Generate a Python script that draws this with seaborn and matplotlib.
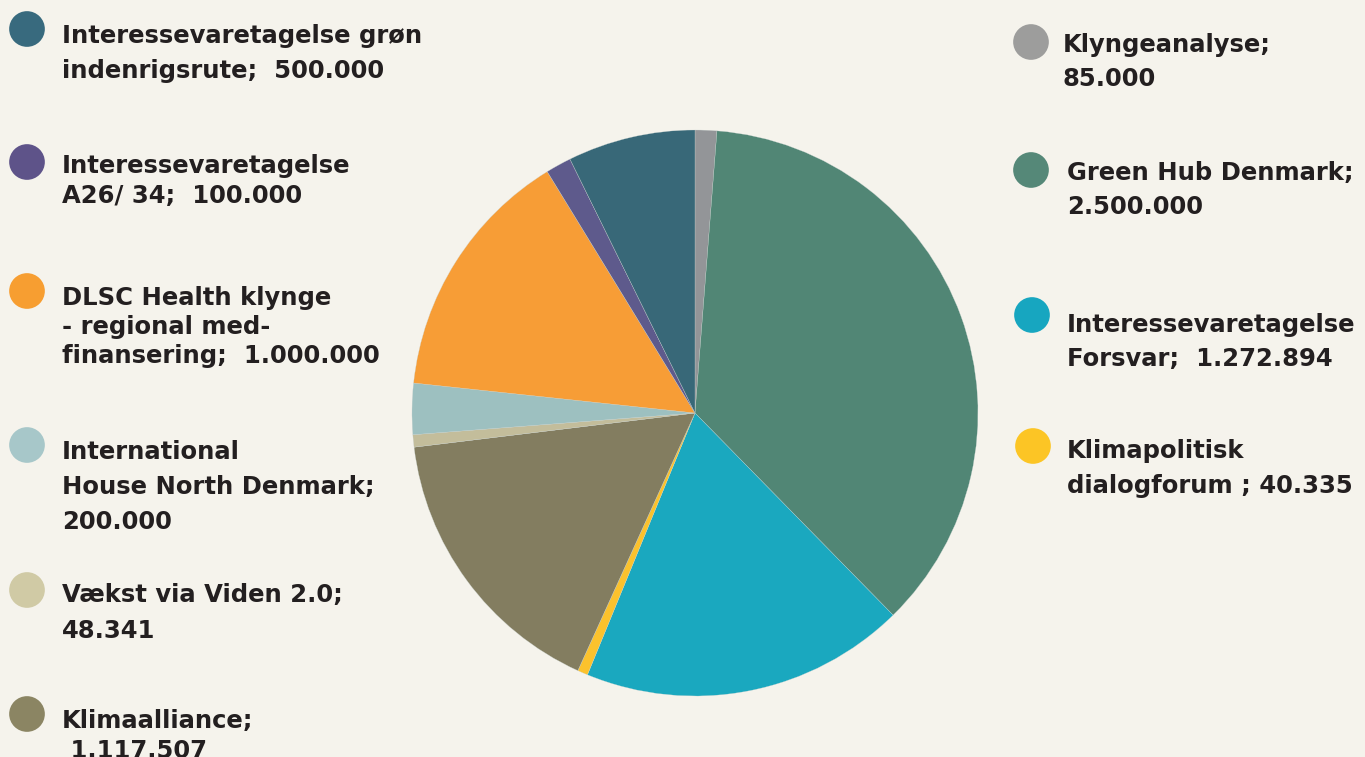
import matplotlib
matplotlib.use('Agg')
import matplotlib.pyplot as plt
import seaborn as sns

# slices, clockwise from 12 o'clock
labels = [
    'Klyngeanalyse;\n85.000',
    'Green Hub Denmark;\n2.500.000',
    'Interessevaretagelse\nForsvar;  1.272.894',
    'Klimapolitisk\ndialogforum ; 40.335',
    'Klimaalliance;\n 1.117.507',
    'Vækst via Viden 2.0;\n48.341',
    'International\nHouse North Denmark;\n200.000',
    'DLSC Health klynge\n- regional med-\nfinansering;  1.000.000',
    'Interessevaretagelse\nA26/ 34;  100.000',
    'Interessevaretagelse grøn\nindenrigsrute;  500.000',
]
values = [85000, 2500000, 1272894, 40335, 1117507, 48341, 200000, 1000000, 100000, 500000]
colors = ['#939598', '#518675', '#1AA8BF', '#FBC22D', '#837D60',
          '#C3BD9B', '#9DC0C0', '#F79D36', '#5E5A8C', '#386878']
dot_colors = ['#9D9D9C', '#558878', '#17A6C0', '#FCC525', '#8B8563',
              '#D0CAA5', '#A7C7C9', '#F79E31', '#5E5389', '#386A7E']

# legend layout in pixels: circle x, circle y, text x, first baseline, line step
legend_pos = [
    (1031, 42, 1063, 52, 34),
    (1031, 170, 1067, 180, 34),
    (1032, 315, 1067, 332, 34),
    (1033, 446, 1067, 458, 35),
    (27, 714, 62, 728, 30),
    (27, 590, 62, 602, 36),
    (27, 445, 62, 459, 35),
    (27, 291, 62, 305, 29),
    (27, 162, 62, 173, 30),
    (27, 29, 62, 43, 35),
]

bg = '#F5F3EC'
sns.set_theme(style='white')
plt.rcParams['font.family'] = ['DejaVu Sans']

W, H = 1365, 757
fig = plt.figure(figsize=(W / 100, H / 100), dpi=100, facecolor=bg)

cx, cy, r = 695, 413, 283
ax = fig.add_axes([(cx - r) / W, (H - cy - r) / H, 2 * r / W, 2 * r / H])
ax.set_facecolor(bg)
ax.pie(values, colors=colors, startangle=90, counterclock=False,
       wedgeprops={'linewidth': 0.2, 'edgecolor': '#C9D3D0'})
ax.set_xlim(-1, 1)
ax.set_ylim(-1, 1)
ax.set_aspect('equal')

lg = fig.add_axes([0, 0, 1, 1], facecolor='none')
lg.set_xlim(0, W)
lg.set_ylim(H, 0)
lg.axis('off')

for label, color, (px, py, tx, ty, step) in zip(labels, dot_colors, legend_pos):
    lg.scatter([px], [py], s=660, color=color, edgecolor='none')
    for i, line in enumerate(label.split('\n')):
        lg.text(tx, ty + i * step, line, fontsize=17.5, fontweight='bold',
                color='#231F20', ha='left', va='baseline')

fig.savefig('out.png', dpi=100, facecolor=bg)
